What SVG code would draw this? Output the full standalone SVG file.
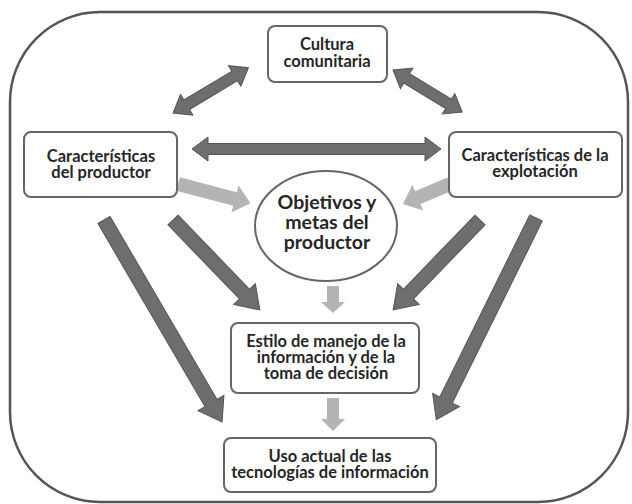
<svg xmlns="http://www.w3.org/2000/svg" width="632" height="504" viewBox="0 0 632 504">
  <style>
    .frame { fill: none; stroke: #555; stroke-width: 2.5; }
    .box { fill: #fff; stroke: #666; stroke-width: 2; }
    .t { font-family: Lato, "Open Sans", "Liberation Sans", sans-serif; font-weight: bold; font-size: 16.5px; fill: #262626; text-anchor: middle; }
    .big { font-size: 19.5px; }
    .dark { fill: #6e6e6e; stroke: #555; stroke-width: 1; }
    .light { fill: #b4b4b4; stroke: none; }
  </style>
  <rect class="frame" x="10" y="12" width="618" height="490" rx="90" ry="90"/>
  <g id="connectors">
    <polygon class="dark" points="0,-7 212,-7 212,-15 234,0 212,15 212,7 0,7" transform="translate(104,220) rotate(59.7)"/>
    <polygon class="dark" points="0,-7 103,-7 103,-15 125,0 103,15 103,7 0,7" transform="translate(173,220) rotate(46)"/>
    <polygon class="dark" points="0,-7 103,-7 103,-15 125,0 103,15 103,7 0,7" transform="translate(480,220) rotate(134)"/>
    <polygon class="dark" points="0,-7 203,-7 203,-15 225,0 203,15 203,7 0,7" transform="translate(536,218) rotate(116.3)"/>
    <polygon class="dark" points="16,-5.5 72,-5.5 72,-12 88,0 72,12 72,5.5 16,5.5 16,12 0,0 16,-12" transform="translate(173,113) rotate(-31)"/>
    <polygon class="dark" points="16,-5.5 65,-5.5 65,-12 81,0 65,12 65,5.5 16,5.5 16,12 0,0 16,-12" transform="translate(393,70) rotate(31.3)"/>
    <polygon class="dark" points="16,-5.5 233,-5.5 233,-12 249,0 233,12 233,5.5 16,5.5 16,12 0,0 16,-12" transform="translate(192,149)"/>
    <polygon class="light" points="0,-7 59,-7 59,-14 75,0 59,14 59,7 0,7" transform="translate(178,184) rotate(14.8)"/>
    <polygon class="light" points="0,-7 35,-7 35,-14 51,0 35,14 35,7 0,7" transform="translate(450,184) rotate(157)"/>
    <polygon class="light" points="0,-6 16,-6 16,-12 27,0 16,12 16,6 0,6" transform="translate(333,286) rotate(90)"/>
    <polygon class="light" points="0,-6 21,-6 21,-12 33,0 21,12 21,6 0,6" transform="translate(333,398) rotate(90)"/>
  </g>
  <g id="cultura">
    <rect class="box" x="268" y="26" width="119" height="56" rx="7"/>
    <text class="t" x="327" y="50">Cultura</text>
    <text class="t" x="327" y="67">comunitaria</text>
  </g>
  <g id="productor">
    <rect class="box" x="24" y="132" width="153" height="65" rx="7"/>
    <text class="t" x="101" y="162">Características</text>
    <text class="t" x="101" y="178">del productor</text>
  </g>
  <g id="explotacion">
    <rect class="box" x="449" y="132" width="173" height="65" rx="7"/>
    <text class="t" x="535" y="161">Características de la</text>
    <text class="t" x="535" y="177">explotación</text>
  </g>
  <g id="objetivos">
    <ellipse class="box" cx="326" cy="226" rx="71" ry="55"/>
    <text class="t big" x="327" y="209">Objetivos y</text>
    <text class="t big" x="327" y="229">metas del</text>
    <text class="t big" x="327" y="249">productor</text>
  </g>
  <g id="estilo">
    <rect class="box" x="231" y="323" width="188" height="70" rx="7"/>
    <text class="t" x="326" y="347">Estilo de manejo de la</text>
    <text class="t" x="326" y="363">información y de la</text>
    <text class="t" x="326" y="379">toma de decisión</text>
  </g>
  <g id="uso">
    <rect class="box" x="224" y="438" width="212" height="54" rx="7"/>
    <text class="t" x="330" y="462">Uso actual de las</text>
    <text class="t" x="330" y="478">tecnologías de información</text>
  </g>
</svg>
